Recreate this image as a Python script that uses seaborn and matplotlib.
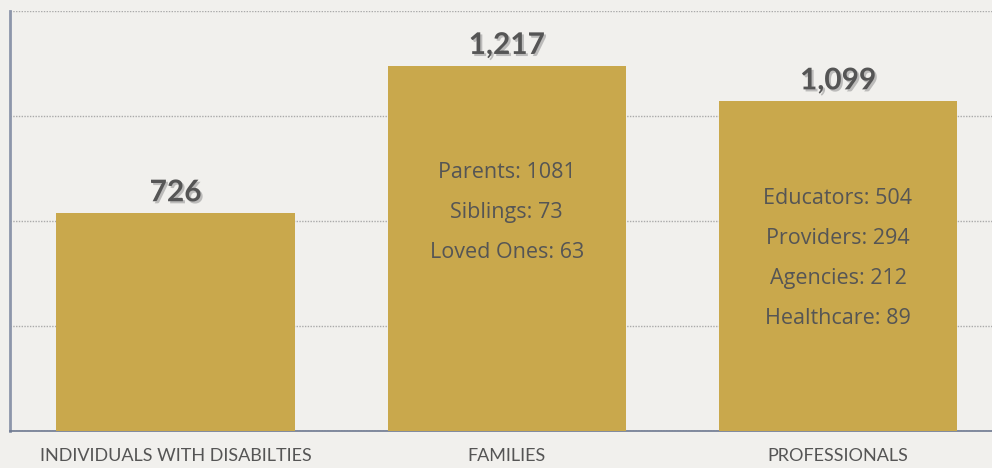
import matplotlib
matplotlib.use("Agg")
import matplotlib.pyplot as plt
import matplotlib.patheffects as pe
import seaborn as sns
import pandas as pd

categories = ["INDIVIDUALS WITH DISABILTIES", "FAMILIES", "PROFESSIONALS"]
totals = [726, 1217, 1099]
value_labels = ["726", "1,217", "1,099"]
breakdowns = [
    [],
    ["Parents: 1081", "Siblings: 73", "Loved Ones: 63"],
    ["Educators: 504", "Providers: 294", "Agencies: 212", "Healthcare: 89"],
]
yticks = [0, 350, 700, 1050, 1400]

BG = "#f1f0ed"
BAR = "#c9a84c"
TXT = "#555555"

sns.set_theme(style="white")
plt.rcParams["font.family"] = ["Lato", "DejaVu Sans"]

fig = plt.figure(figsize=(9.92, 4.68), dpi=100, facecolor=BG)
ax = fig.add_axes([10 / 992, 37 / 468, 982 / 992, 420 / 468])
ax.set_facecolor(BG)

df = pd.DataFrame({"cat": categories, "total": totals})
sns.barplot(data=df, x="cat", y="total", color=BAR, saturation=1, width=0.72,
            linewidth=0, edgecolor=BAR, ax=ax, zorder=3)

ax.set_xlim(-0.5, 2.465)
ax.set_ylim(0, 1400)
ax.set_yticks(yticks)
ax.set_yticklabels([])
ax.tick_params(axis="both", length=0)
ax.yaxis.grid(True, linestyle=(0, (1, 1)), color="#aaaaaa", linewidth=1.0, zorder=0)
ax.set_axisbelow(True)
ax.set_xlabel("")
ax.set_ylabel("")
ax.set_xticks(range(len(categories)))
ax.set_xticklabels(categories, fontsize=13, color=TXT)
ax.tick_params(axis="x", pad=12)

for s in ["top", "right"]:
    ax.spines[s].set_visible(False)
ax.spines["left"].set_color("#8d96aa")
ax.spines["left"].set_linewidth(2.0)
ax.spines["bottom"].set_color("#6d7890")
ax.spines["bottom"].set_linewidth(1.2)

shadow = [pe.withSimplePatchShadow(offset=(1.5, -1.5), shadow_rgbFace="#999999", alpha=0.6)]
for i, (t, lab) in enumerate(zip(totals, value_labels)):
    ax.annotate(lab, xy=(i, t), xytext=(0, 5), textcoords="offset points",
                ha="center", va="bottom", fontsize=21.5, fontweight="bold",
                color=TXT, path_effects=shadow)

# breakdown text blocks (block centre in data units, line spacing in points)
block_centres = [None, 728, 575]
line_step_pt = 29
for i, lines in enumerate(breakdowns):
    if not lines:
        continue
    n = len(lines)
    for j, line in enumerate(lines):
        off = ((n - 1) / 2 - j) * line_step_pt
        ax.annotate(line, xy=(i, block_centres[i]), xytext=(0, off),
                    textcoords="offset points", ha="center", va="center",
                    fontsize=15.5, color=TXT, zorder=5,
                    family=["Open Sans", "DejaVu Sans"])

fig.savefig("out.png", dpi=100, facecolor=BG)
